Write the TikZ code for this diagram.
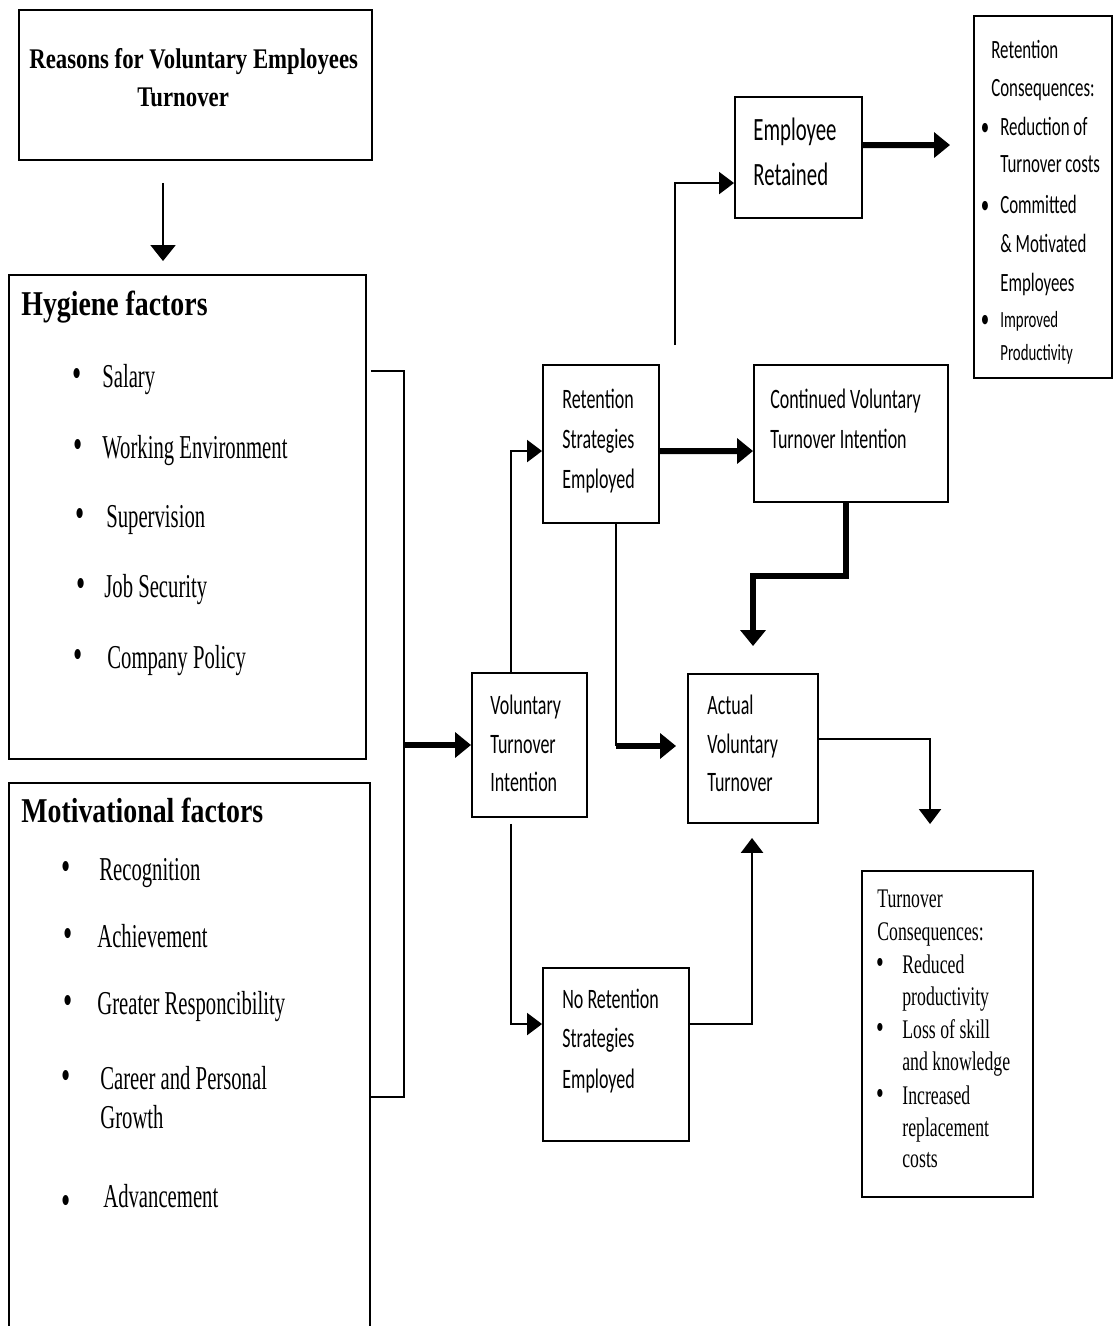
\documentclass[tikz,border=0pt]{standalone}
\usepackage{fontspec}
\setmainfont{Liberation Serif}
\newfontfamily\serf[FakeStretch=0.62]{Liberation Serif}
\newfontfamily\sertc[FakeStretch=0.66]{Liberation Serif}
\newfontfamily\serbf[FakeStretch=0.8]{Liberation Serif}
\newfontfamily\calf[FakeStretch=0.64]{Carlito}
\usetikzlibrary{arrows.meta,fit,calc}
\begin{document}
\begin{tikzpicture}[x=0.02cm,y=-0.02cm,
  box/.style={draw,line width=1.1pt,inner sep=0pt},
  txt/.style={inner sep=0pt,anchor=base west},
  bul/.style={inner sep=0pt,anchor=base},
  conn/.style={line width=1.1pt},
  heavy/.style={line width=3.4pt},
  tipS/.style={-{Triangle[length=8.5pt,width=12.5pt]}},
  tipL/.style={-{Triangle[length=9pt,width=14pt]}},
  fTitle/.style={font=\serbf\bfseries\fontsize{16.2}{18}\selectfont},
  fHead/.style={font=\serbf\bfseries\fontsize{19.8}{22}\selectfont},
  fItem/.style={font=\serf\fontsize{19}{22}\selectfont},
  fBul/.style={font=\serf\fontsize{24}{22}\selectfont},
  fTC/.style={font=\sertc\fontsize{15.3}{18}\selectfont},
  fTCb/.style={font=\sertc\fontsize{19}{18}\selectfont},
  fCal/.style={font=\calf\fontsize{16}{18}\selectfont},
  fCalL/.style={font=\calf\fontsize{18.5}{21}\selectfont},
  fRC/.style={font=\calf\fontsize{15}{17}\selectfont},
  fRCs/.style={font=\calf\fontsize{13.2}{15}\selectfont}
]
\fill[white] (0,0) rectangle (1113,1326);
\useasboundingbox (0,0) rectangle (1113,1326);

% boxes
\node[box, fit={(19,10)(372,160)}] (title) {};
\node[box, fit={(9,275)(366,759)}] (hyg) {};
\node[inner sep=0pt, fit={(9,783)(370,1340)}] (mot) {};
\draw[line width=1.1pt] (mot.south west) -- (mot.north west) -- (mot.north east) -- (mot.south east);
\node[box, fit={(472,673)(587,817)}] (vti) {};
\node[box, fit={(543,365)(659,523)}] (rse) {};
\node[box, fit={(754,365)(948,502)}] (cvti) {};
\node[box, fit={(735,97)(862,218)}] (er) {};
\node[box, fit={(974,16)(1112,378)}] (rc) {};
\node[box, fit={(688,674)(818,823)}] (avt) {};
\node[box, fit={(543,968)(689,1141)}] (nrse) {};
\node[box, fit={(862,871)(1033,1197)}] (tc) {};

% connectors
\draw[conn, line width=1.4pt, tipL] ($(title.south west)+(145,22)$) -- ($(hyg.north west)+(155,-13)$);
\coordinate (bj) at (404,745);
\draw[conn] ($(hyg.north east)+(4,97)$) -| (bj) |- ($(mot.north east)+(0,314)$);
\draw[heavy, tipL] (bj) -- (vti.west);
\draw[conn, tipS] ($(vti.north west)+(40,0)$) |- ($(rse.north west)+(0,87)$);
\draw[conn, tipS] ($(vti.south west)+(40,6)$) |- ($(nrse.north west)+(0,57)$);
\draw[heavy, tipL] ($(rse.north east)+(0,87)$) -- ($(cvti.north west)+(0,87)$);
\draw[heavy, tipL] ($(cvti.south west)+(93,0)$) -- ++(0,73) -| ($(avt.north west)+(66,-27)$);
\draw[conn] ($(rse.south west)+(74,0)$) -- ++(0,222) coordinate (rj);
\draw[heavy, tipL] (rj) -- ($(avt.west |- rj)+(-11,0)$);
\coordinate (es) at (675,345);
\draw[conn, tipS] (es) |- ($(er.north west)+(0,87)$);
\draw[heavy, tipL] ($(er.north east)+(0,49)$) -- ($(rc.north west)+(-23,130)$);
\draw[conn, tipS] ($(avt.north east)+(0,66)$) -| ($(tc.north west)+(69,-46)$);
\draw[conn, line width=1.5pt, tipS] ($(nrse.north east)+(0,57)$) -| ($(avt.south west)+(65,14)$);

% title
\node[txt, fTitle] (tt1) at (29,68) {Reasons for Voluntary Employees};
\node[txt, fTitle] (tt2) at (137,106) {Turnover};

% hygiene
\node[txt, fHead] (hh) at (21,315) {Hygiene factors};
\foreach \n/\bx/\tx/\y/\t in {1/77/102/387/{Salary}, 2/78/102/458/{Working Environment}, 3/80/106/527/{Supervision}, 4/81/104/597/{Job Security}, 5/78/107/668/{Company Policy}} {
  \node[bul, fBul] (hb\n) at (\bx,\y) {•};
  \node[txt, fItem] (ht\n) at (\tx,\y) {\t};
}

% motivational
\node[txt, fHead] (mh) at (21,822) {Motivational factors};
\foreach \n/\bx/\tx/\y/\t in {1/66/99/880/{Recognition}, 2/68/97/947/{Achievement}, 3/68/97/1014/{Greater Responcibility}, 4/66/100/1089/{Career and Personal}} {
  \node[bul, fBul] (mb\n) at (\bx,\y) {•};
  \node[txt, fItem] (mt\n) at (\tx,\y) {\t};
}
\node[txt, fItem] (mt5) at (100,1128) {Growth};
\node[bul, fBul] (mb6) at (66,1214) {•};
\node[txt, fItem] (mt6) at (103,1207) {Advancement};

% calibri boxes
\node[txt, fCal] (vt1) at (490,714) {Voluntary};
\node[txt, fCal] (vt2) at (490,753) {Turnover};
\node[txt, fCal] (vt3) at (490,791) {Intention};
\node[txt, fCal] (at1) at (707,714) {Actual};
\node[txt, fCal] (at2) at (707,753) {Voluntary};
\node[txt, fCal] (at3) at (707,791) {Turnover};
\node[txt, fCal] (rs1) at (562,408) {Retention};
\node[txt, fCal] (rs2) at (562,448) {Strategies};
\node[txt, fCal] (rs3) at (562,488) {Employed};
\node[txt, fCal] (cv1) at (770,408) {Continued Voluntary};
\node[txt, fCal] (cv2) at (770,448) {Turnover Intention};
\node[txt, fCal] (nr1) at (562,1008) {No Retention};
\node[txt, fCal] (nr2) at (562,1047) {Strategies};
\node[txt, fCal] (nr3) at (562,1088) {Employed};
\node[txt, fCalL] (er1) at (753,140) {Employee};
\node[txt, fCalL] (er2) at (753,185) {Retained};

% retention consequences
\node[txt, fRC] (rc1) at (991,58) {Retention};
\node[txt, fRC] (rc2) at (991,96) {Consequences:};
\node[bul, fRC] (rcb1) at (985,135) {•};
\node[txt, fRC] (rc3) at (1000,135) {Reduction of};
\node[txt, fRC] (rc4) at (1000,172) {Turnover costs};
\node[bul, fRC] (rcb2) at (985,213) {•};
\node[txt, fRC] (rc5) at (1000,213) {Committed};
\node[txt, fRC] (rc6) at (1000,252) {\& Motivated};
\node[txt, fRC] (rc7) at (1000,291) {Employees};
\node[bul, fRC] (rcb3) at (985,327) {•};
\node[txt, fRCs] (rc8) at (1000,327) {Improved};
\node[txt, fRCs] (rc9) at (1000,360) {Productivity};

% turnover consequences
\node[txt, fTC] (tc1) at (877,907) {Turnover};
\node[txt, fTC] (tc2) at (877,940) {Consequences:};
\node[bul, fTCb] (tcb1) at (880,973) {•};
\node[txt, fTC] (tc3) at (902,973) {Reduced};
\node[txt, fTC] (tc4) at (902,1005) {productivity};
\node[bul, fTCb] (tcb2) at (880,1038) {•};
\node[txt, fTC] (tc5) at (902,1038) {Loss of skill};
\node[txt, fTC] (tc6) at (902,1070) {and knowledge};
\node[bul, fTCb] (tcb3) at (880,1104) {•};
\node[txt, fTC] (tc7) at (902,1104) {Increased};
\node[txt, fTC] (tc8) at (902,1136) {replacement};
\node[txt, fTC] (tc9) at (902,1167) {costs};
\end{tikzpicture}
\end{document}
